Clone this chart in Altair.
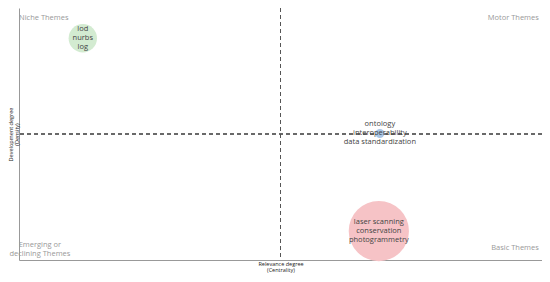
import altair as alt
import pandas as pd

# Thematic map data (centrality normalised 0..1, density normalised 0..1)
themes = ["lod\nnurbs\nlog", "ontology\ninteroperability\ndata standardization", "laser scanning\nconservation\nphotogrammetry"]
centrality = [0.122, 0.69, 0.688]
density = [0.88, 0.502, 0.115]
frequency = [20, 2, 90]
colors = ["#d3ebd1", "#a9c6e6", "#f6c3c6"]

quad_labels = ["Niche Themes", "Motor Themes", "Emerging or\ndeclining Themes", "Basic Themes"]
quad_x = [0.0, 0.994, 0.04, 0.994]
quad_y = [0.962, 0.962, 0.06, 0.047]
quad_align = ["left", "right", "center", "right"]

df = pd.DataFrame({"theme": themes, "x": centrality, "y": density,
                   "freq": frequency, "color": colors})
qdf = pd.DataFrame({"label": quad_labels, "x": quad_x, "y": quad_y, "align": quad_align})

FONT = "Open Sans"
xs = alt.Scale(domain=[0, 1], nice=False, zero=False)
ys = alt.Scale(domain=[0, 1], nice=False, zero=False)

base = alt.Chart(df)

bubbles = base.mark_circle(opacity=1).encode(
    x=alt.X("x:Q", scale=xs, axis=alt.Axis(
        title=["Relevance degree", "(Centrality)"], labels=False, ticks=False, grid=False,
        domainColor="#999", titleFontSize=5.5, titleFont=FONT, titleFontWeight="normal",
        titlePadding=1, titleColor="#222", titleLineHeight=6.5)),
    y=alt.Y("y:Q", scale=ys, axis=alt.Axis(
        title=["Development degree", "(Density)"], labels=False, ticks=False, grid=False,
        domainColor="#999", titleFontSize=5.5, titleFont=FONT, titleFontWeight="normal",
        titlePadding=0, titleColor="#222", titleLineHeight=6)),
    size=alt.Size("freq:Q", scale=alt.Scale(domain=[0, 90], range=[0, 3632]), legend=None),
    color=alt.Color("color:N", scale=None),
)

labels = base.mark_text(font=FONT, fontSize=7.5, lineHeight=9, color="#444",
                        baseline="middle", align="center", lineBreak="\n", dy=-9).encode(
    x=alt.X("x:Q", scale=xs), y=alt.Y("y:Q", scale=ys), text="theme:N")

vrule = alt.Chart(df).mark_rule(strokeDash=[4, 3], color="#555", strokeWidth=1).encode(
    x=alt.X(datum=0.5))
hrule = alt.Chart(df).mark_rule(strokeDash=[4, 3], color="#555", strokeWidth=1).encode(
    y=alt.Y(datum=0.5))

qlayers = []
for i in range(len(quad_labels)):
    qlayers.append(alt.Chart(qdf.iloc[[i]]).mark_text(
        font=FONT, fontSize=7.5, lineHeight=9, color="#999", align=quad_align[i],
        baseline="middle", lineBreak="\n").encode(
        x=alt.X("x:Q", scale=xs), y=alt.Y("y:Q", scale=ys), text="label:N"))

chart = alt.layer(vrule, hrule, bubbles, labels, *qlayers).properties(
    width=523, height=252,
    autosize=alt.AutoSizeParams(type="none"),
    padding={"left": 11, "top": 0, "right": 0, "bottom": 13},
).configure_view(stroke=None).configure_axis(domainWidth=1)

chart.save("out.html", embed_options={"renderer": "svg", "actions": False})
